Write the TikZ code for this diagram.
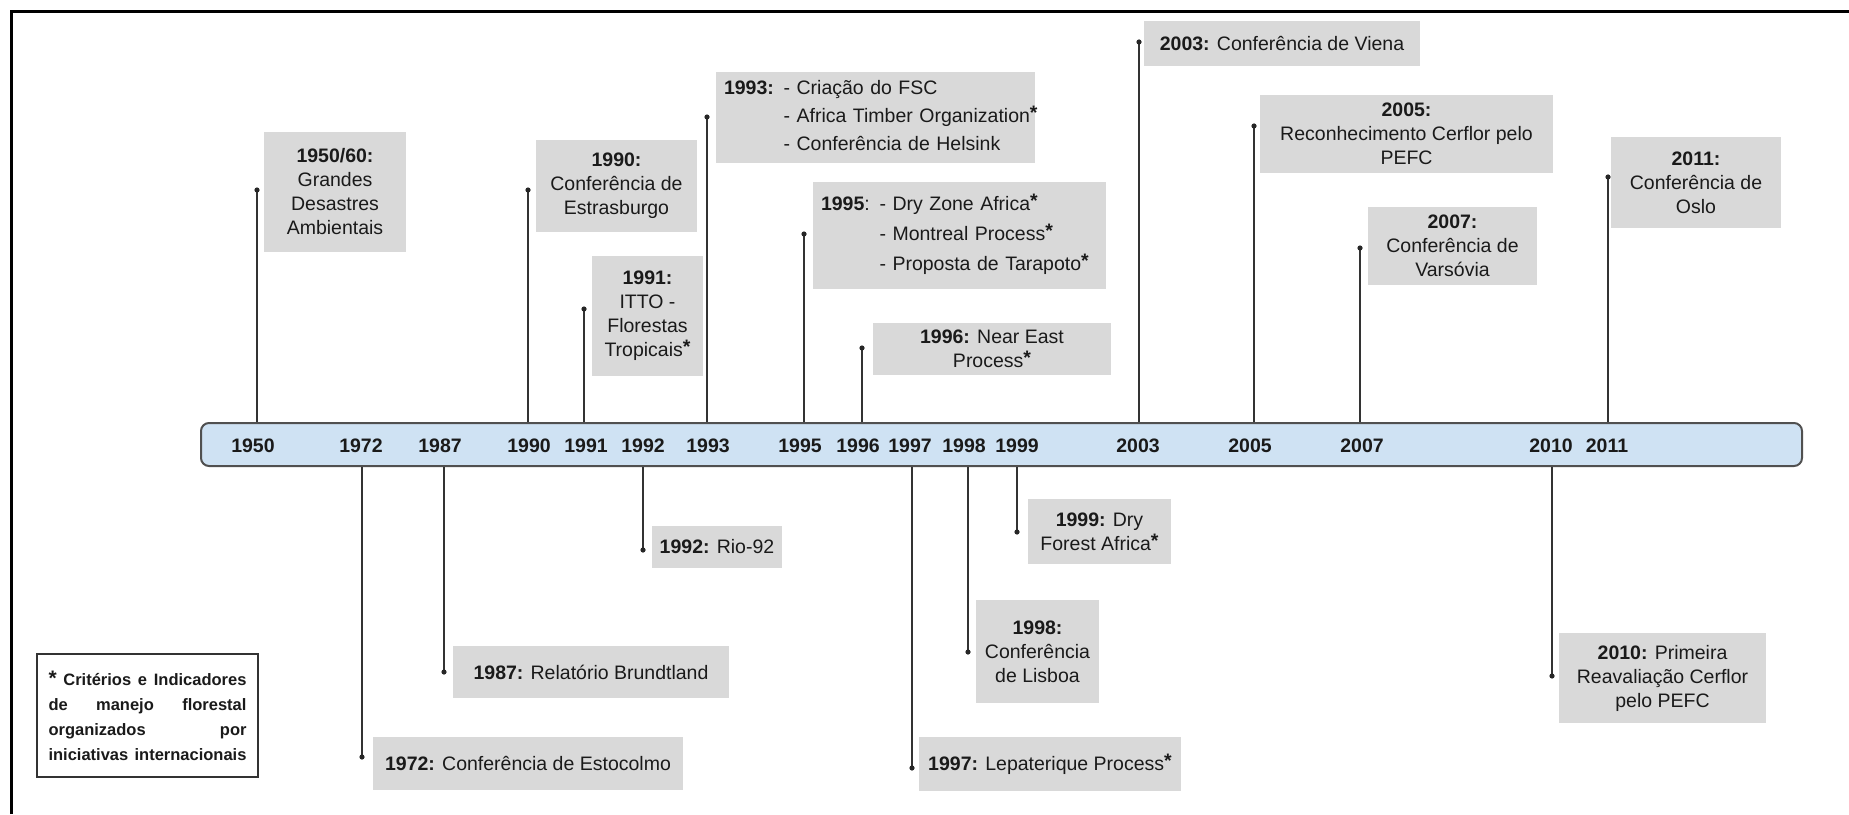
\documentclass[tikz,border=0pt]{standalone}
\usepackage{fontspec}
\setmainfont{Liberation Sans}
\definecolor{boxgray}{HTML}{D9D9D9}
\definecolor{barblue}{HTML}{CFE2F3}
\definecolor{bardraw}{HTML}{505050}
\definecolor{txt}{HTML}{1A1A1A}
\newcommand\evfont{\fontsize{19.5}{24}\selectfont}
\newcommand\yrfont{\fontsize{19.5}{23}\selectfont\bfseries}
\newcommand\lgfont{\fontsize{16.5}{25}\selectfont\bfseries}
\newcommand\stx{\raisebox{3pt}{\textbf{*}}}
\tikzset{
  evbox/.style={fill=boxgray, inner sep=0pt, align=center, font=\evfont, text=txt},
  listbox/.style={evbox, align=left, inner xsep=8pt},
  yearlbl/.style={font=\yrfont, text=txt, inner sep=0pt},
  conn/.style={draw=black!80, line width=1.4pt},
  dotc/.style={fill=black!85},
  barbox/.style={draw=bardraw, line width=2pt, fill=barblue, rounded corners=8pt, inner sep=0pt},
}
\begin{document}
\begin{tikzpicture}[x=1pt,y=-1pt]
\useasboundingbox (0,0) rectangle (1849,814);
% frame (only left and top visible)
\draw[line width=3pt, black] (11,814) -- (11,11) -- (1849,11);

% timeline bar
\node[barbox, minimum width=1601pt, minimum height=43pt] (bar) at (1001.5,444.5) {};
\foreach \yr/\xx in {1950/253,1972/361,1987/440,1990/529,1991/586,1992/643,1993/708,1995/800,1996/858,1997/910,1998/964,1999/1017,2003/1138,2005/1250,2007/1362,2010/1551,2011/1607}
  \node[yearlbl] (y\yr) at (\xx,446) {\yr};

% free ends of the connectors
\coordinate (d1950) at (257,190);
\coordinate (d1990) at (528,190);
\coordinate (d1991) at (584,309);
\coordinate (d1993) at (707,117);
\coordinate (d1995) at (804,234);
\coordinate (d1996) at (862,348);
\coordinate (d2003) at (1139,42);
\coordinate (d2005) at (1254,126);
\coordinate (d2007) at (1360,248);
\coordinate (d2011) at (1608,177);
\coordinate (d1972) at (362,757);
\coordinate (d1987) at (444,672);
\coordinate (d1992) at (643,550);
\coordinate (d1997) at (912,768);
\coordinate (d1998) at (968,652);
\coordinate (d1999) at (1017,532);
\coordinate (d2010) at (1552,676);

\foreach \d in {1950,1990,1991,1993,1995,1996,2003,2005,2007,2011}{
  \draw[conn] (bar.north -| d\d) -- (d\d);
  \fill[dotc] (d\d) circle (2.6pt);
}
\foreach \d in {1972,1987,1992,1997,1998,1999,2010}{
  \draw[conn] (bar.south -| d\d) -- (d\d);
  \fill[dotc] (d\d) circle (2.6pt);
}

% event boxes above
\node[evbox, minimum width=142pt, minimum height=120pt] (b1950) at (335,192)
  {\textbf{1950/60:}\\Grandes\\Desastres\\Ambientais};
\node[evbox, minimum width=161pt, minimum height=92pt] (b1990) at (616.5,186)
  {\textbf{1990:}\\Conferência de\\Estrasburgo};
\node[evbox, minimum width=111pt, minimum height=120pt] (b1991) at (647.5,316)
  {\textbf{1991:}\\ITTO -\\Florestas\\Tropicais\stx};
\node[listbox, minimum width=319pt, minimum height=91pt, text width=303pt] (b1993) at (875.5,117.5)
  {\begin{tabular}{@{}l@{ }l@{}}\textbf{1993:} & - Criação do FSC\\[4pt] & - Africa Timber Organization\stx\\[4pt] & - Conferência de Helsink\end{tabular}};
\node[listbox, minimum width=293pt, minimum height=107pt, text width=277pt] (b1995) at (959.5,235.5)
  {\begin{tabular}{@{}l@{ }l@{}}\textbf{1995}: & - Dry Zone Africa\stx\\[6pt] & - Montreal Process\stx\\[6pt] & - Proposta de Tarapoto\stx\end{tabular}};
\node[evbox, minimum width=238pt, minimum height=52pt] (b1996) at (992,349)
  {\textbf{1996:} Near East\\Process\stx};
\node[evbox, minimum width=276pt, minimum height=45pt] (b2003) at (1282,43.5)
  {\textbf{2003:} Conferência de Viena};
\node[evbox, minimum width=293pt, minimum height=78pt] (b2005) at (1406.5,134)
  {\textbf{2005:}\\Reconhecimento Cerflor pelo\\PEFC};
\node[evbox, minimum width=169pt, minimum height=78pt] (b2007) at (1452.5,246)
  {\textbf{2007:}\\Conferência de\\Varsóvia};
\node[evbox, minimum width=170pt, minimum height=91pt] (b2011) at (1696,182.5)
  {\textbf{2011:}\\Conferência de\\Oslo};

% event boxes below
\node[evbox, minimum width=130pt, minimum height=42pt] (b1992) at (717,547)
  {\textbf{1992:} Rio-92};
\node[evbox, minimum width=276pt, minimum height=52pt] (b1987) at (591,672)
  {\textbf{1987:} Relatório Brundtland};
\node[evbox, minimum width=310pt, minimum height=53pt] (b1972) at (528,763.5)
  {\textbf{1972:} Conferência de Estocolmo};
\node[evbox, minimum width=143pt, minimum height=65pt] (b1999) at (1099.5,531.5)
  {\textbf{1999:} Dry\\Forest Africa\stx};
\node[evbox, minimum width=123pt, minimum height=103pt] (b1998) at (1037.5,651.5)
  {\textbf{1998:}\\Conferência\\de Lisboa};
\node[evbox, minimum width=262pt, minimum height=54pt] (b1997) at (1050,764)
  {\textbf{1997:} Lepaterique Process\stx};
\node[evbox, minimum width=207pt, minimum height=90pt] (b2010) at (1662.5,678)
  {\textbf{2010:} Primeira\\Reavaliação Cerflor\\pelo PEFC};

% legend
\node[draw=black!80, line width=1.5pt, fill=white, minimum width=221pt, minimum height=123pt,
      inner sep=0pt, align=center, font=\lgfont, text=txt] (legend) at (147.5,715.5)
  {\makebox[198pt][s]{{\fontsize{21}{21}\selectfont *} Critérios e Indicadores}\\
   \makebox[198pt][s]{de manejo florestal}\\
   \makebox[198pt][s]{organizados por}\\
   \makebox[198pt][s]{iniciativas internacionais}};
\end{tikzpicture}
\end{document}
